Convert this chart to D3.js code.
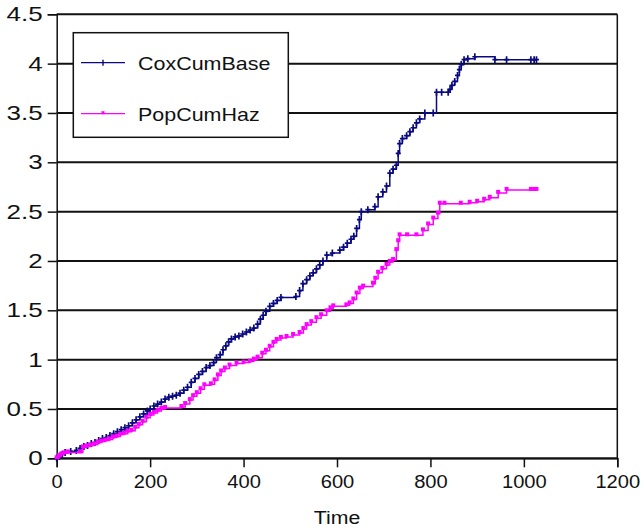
<!DOCTYPE html>
<html><head><meta charset="utf-8">
<script src="https://cdn.jsdelivr.net/npm/d3@7"></script>
<style>body{margin:0;background:#fff}svg{display:block}text{font-family:"Liberation Sans",Arial,sans-serif;fill:#111}</style>
</head><body><svg id="c" width="644" height="530"></svg>
<script>
const xTicks=[0,200,400,600,800,1000,1200];
const yTicks=[0,0.5,1,1.5,2,2.5,3,3.5,4,4.5];
const seriesNames=["CoxCumBase","PopCumHaz"];
const coxTime=[0,6,12,18,30,42,50,58,66,74,82,90,98,106,114,122,130,138,146,154,162,170,178,186,194,200,208,216,224,232,240,248,256,264,272,280,288,296,304,312,320,328,336,342,350,356,362,368,374,382,390,398,406,414,422,430,436,442,448,456,464,472,480,512,520,527,535,542,549,556,563,570,578,590,606,614,622,630,636,642,648,652,666,681,688,698,706,713,720,727,731,734,740,749,756,763,770,777,788,806,813,824,838,842,846,852,858,862,866,872,880,895,938,963,1015,1022,1027];
const coxVal=[0,0.02,0.04,0.06,0.07,0.08,0.10,0.12,0.13,0.15,0.16,0.18,0.20,0.21,0.23,0.25,0.27,0.29,0.31,0.33,0.36,0.39,0.42,0.45,0.48,0.50,0.53,0.55,0.57,0.60,0.62,0.63,0.64,0.66,0.69,0.72,0.77,0.81,0.85,0.88,0.92,0.94,0.97,1.02,1.05,1.10,1.14,1.18,1.21,1.23,1.24,1.26,1.28,1.30,1.32,1.36,1.41,1.45,1.49,1.54,1.57,1.60,1.63,1.64,1.70,1.77,1.81,1.85,1.88,1.92,1.96,2.00,2.06,2.08,2.11,2.14,2.18,2.22,2.25,2.33,2.42,2.50,2.52,2.55,2.65,2.70,2.76,2.89,2.93,2.97,3.09,3.19,3.24,3.27,3.31,3.35,3.40,3.44,3.50,3.50,3.71,3.71,3.71,3.74,3.78,3.82,3.88,3.94,3.99,4.04,4.05,4.07,4.04,4.04,4.04,4.04,4.04];
const popTime=[0,5,10,16,24,50,56,64,72,80,88,96,104,112,120,128,136,144,152,160,168,176,184,192,200,208,216,224,232,267,275,285,292,300,308,316,330,338,345,352,360,370,385,400,413,422,430,440,448,456,464,471,480,492,506,520,528,535,545,556,566,578,586,592,620,627,635,642,649,656,677,682,688,697,706,713,720,727,731,734,750,770,784,795,806,816,820,830,865,884,900,915,927,945,963,1015,1022,1027];
const popVal=[0,0.02,0.04,0.05,0.06,0.06,0.11,0.12,0.13,0.14,0.16,0.17,0.18,0.19,0.21,0.22,0.24,0.25,0.27,0.28,0.31,0.34,0.37,0.41,0.44,0.46,0.48,0.50,0.51,0.52,0.55,0.59,0.63,0.66,0.70,0.74,0.75,0.79,0.84,0.88,0.91,0.94,0.96,0.97,0.98,1.00,1.02,1.06,1.09,1.13,1.17,1.20,1.22,1.23,1.25,1.27,1.31,1.35,1.38,1.42,1.45,1.49,1.52,1.54,1.55,1.57,1.61,1.67,1.72,1.74,1.77,1.82,1.88,1.92,1.96,1.99,2.01,2.11,2.20,2.26,2.26,2.26,2.31,2.37,2.43,2.48,2.58,2.58,2.58,2.59,2.60,2.62,2.64,2.69,2.72,2.72,2.72,2.72];

const svg=d3.select("#c");
const L=56.7,R=617.3,T=14.3,B=458.3;
const x=d3.scaleLinear().domain([0,1200]).range([L,R]);
const y=d3.scaleLinear().domain([0,4.5]).range([B,T]);

svg.append("g").selectAll("line").data(yTicks).join("line")
  .attr("x1",L).attr("x2",R).attr("y1",d=>y(d)).attr("y2",d=>y(d))
  .attr("stroke","#111").attr("stroke-width",2);
svg.append("line").attr("x1",R).attr("x2",R).attr("y1",T).attr("y2",B).attr("stroke","#111").attr("stroke-width",1.5);

const ya=svg.append("g").attr("transform",`translate(${L},0)`)
  .call(d3.axisLeft(y).tickValues(yTicks).tickSize(9).tickPadding(6).tickFormat(d3.format("")));
const xa=svg.append("g").attr("transform",`translate(0,${B})`)
  .call(d3.axisBottom(x).tickValues(xTicks).tickSize(9).tickPadding(7).tickFormat(d3.format("")));
[ya,xa].forEach(g=>{g.select(".domain").attr("stroke","#111").attr("stroke-width",1.5);
  g.selectAll(".tick line").attr("stroke","#111").attr("stroke-width",1.5);
  g.selectAll(".tick text").attr("fill","#111").attr("font-family","Liberation Sans, Arial, sans-serif");});
ya.selectAll(".tick text").attr("font-size",20).attr("x",-14/1.3).attr("transform","scale(1.3,1)");
xa.selectAll(".tick text").attr("font-size",19).attr("transform","scale(1.06,1)");
svg.append("text").attr("transform",`translate(${(L+R)/2},524) scale(1.12,1)`).attr("text-anchor","middle").attr("font-size",19).text("Time");

const colors=["#0a0a80","#ff00ff"];
const sets=[coxTime.map((t,i)=>[t,coxVal[i]]),popTime.map((t,i)=>[t,popVal[i]])];
const line=d3.line().x(d=>x(d[0])).y(d=>y(d[1])).curve(d3.curveStepAfter);
sets.forEach((data,k)=>{
  svg.append("path").datum(data).attr("d",line).attr("fill","none").attr("stroke",colors[k]).attr("stroke-width",1.5);
  const m=svg.append("g");
  if(k===0){
    m.selectAll("path").data(data).join("path").attr("d",d=>`M${x(d[0])-2.5},${y(d[1])}h5M${x(d[0])},${y(d[1])-3.5}v7`)
      .attr("stroke",colors[k]).attr("stroke-width",1.7);
  } else {
    m.selectAll("rect").data(data).join("rect").attr("x",d=>x(d[0])-2).attr("y",d=>y(d[1])-3).attr("width",4).attr("height",4)
      .attr("fill",colors[k]);
  }
});

const lg=svg.append("g");
lg.append("rect").attr("x",73.3).attr("y",32.7).attr("width",215).attr("height",104.6).attr("fill","#fff").attr("stroke","#111").attr("stroke-width",1.5);
seriesNames.forEach((n,i)=>{
  const yy=62.7+i*51;
  lg.append("line").attr("x1",81).attr("x2",125).attr("y1",yy).attr("y2",yy).attr("stroke",colors[i]).attr("stroke-width",1.3);
  if(i===0) lg.append("path").attr("d",`M103,${yy-3}v6`).attr("stroke",colors[i]).attr("stroke-width",1.4);
  else lg.append("rect").attr("x",101.5).attr("y",yy-2.5).attr("width",3).attr("height",3).attr("fill",colors[i]);
  lg.append("text").attr("transform",`translate(138,${yy+7}) scale(1.13,1)`).attr("font-size",19).text(n);
});
</script></body></html>
